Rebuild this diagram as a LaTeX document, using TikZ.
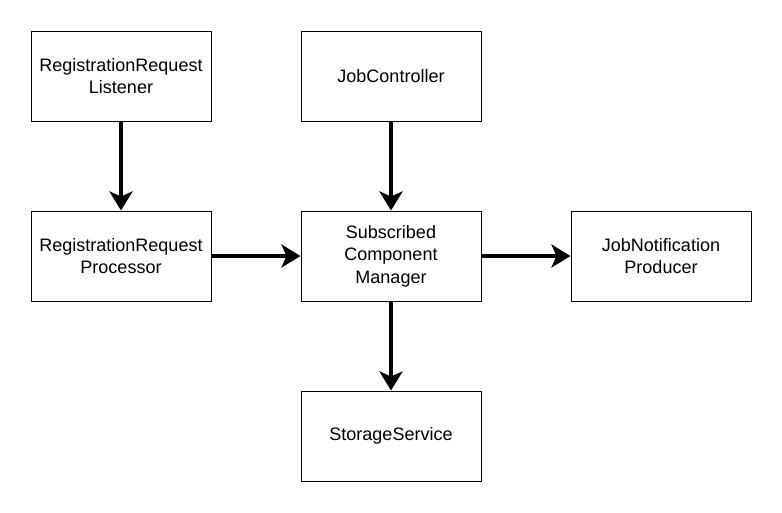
\documentclass[tikz,border=0pt]{standalone}
\usepackage{fontspec}
\setmainfont{Liberation Sans}
\usetikzlibrary{arrows.meta}
\begin{document}
\begin{tikzpicture}[x=1pt,y=-1pt,
  box/.style={draw=black, line width=1pt, fill=white, minimum width=180pt, minimum height=90pt, inner sep=0pt, align=center, font=\fontsize{18}{22.5}\selectfont},
  conn/.style={line width=3.5pt, -{Stealth[length=19pt,width=23pt,inset=5pt]}}]
\useasboundingbox (0,0) rectangle (782,512);
\node[box] (rl) at (121,76) {RegistrationRequest\\Listener};
\node[box] (jc) at (391,76) {JobController};
\node[box] (rp) at (121,256) {RegistrationRequest\\Processor};
\node[box] (scm) at (391,256) {Subscribed\\Component\\Manager};
\node[box] (jn) at (661,256) {JobNotification\\Producer};
\node[box] (ss) at (391,436) {StorageService};
\draw[conn] (rl) -- (rp);
\draw[conn] (jc) -- (scm);
\draw[conn] (rp) -- (scm);
\draw[conn] (scm) -- (jn);
\draw[conn] (scm) -- (ss);
\end{tikzpicture}
\end{document}
